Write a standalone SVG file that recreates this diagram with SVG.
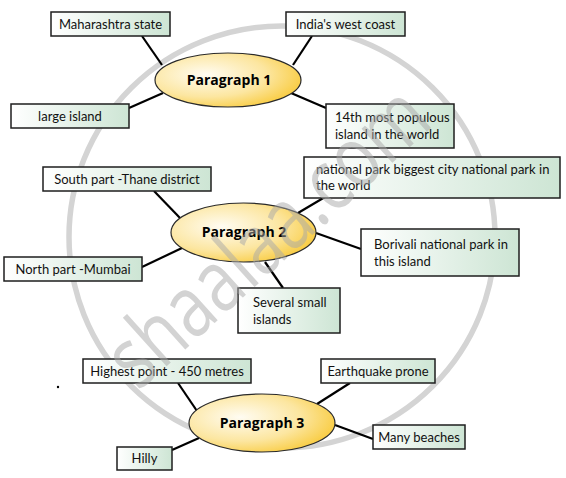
<svg xmlns="http://www.w3.org/2000/svg" width="566" height="478" viewBox="0 0 566 478">
<defs>
<linearGradient id="boxg" x1="0" y1="0" x2="1" y2="0">
<stop offset="0" stop-color="#ffffff"/>
<stop offset="1" stop-color="#cde5d4"/>
</linearGradient>
<radialGradient id="ellg" cx="0.35" cy="0.4" r="0.75">
<stop offset="0" stop-color="#fffcf2"/>
<stop offset="0.55" stop-color="#fce6a0"/>
<stop offset="1" stop-color="#f8c62c"/>
</radialGradient>
<style>
.box{fill:url(#boxg);stroke:#1e1e1e;stroke-width:1.5}
.ell{fill:url(#ellg);stroke:#2a2a2a;stroke-width:1.2}
.t{font-family:Lato,"Open Sans",sans-serif;font-size:13px;fill:#111}
.c{text-anchor:middle}
.p{font-family:"Open Sans",Lato,sans-serif;font-size:14px;font-weight:bold;fill:#000;text-anchor:middle}
.ln{stroke:#000;stroke-width:2.2;fill:none}
.wm{fill:none;stroke:#d4d4d4;stroke-width:5.5}
.wt{font-family:"Open Sans",sans-serif;font-size:86px;fill:#a8a8a8;opacity:0.5}
</style>
</defs>
<rect width="566" height="478" fill="#ffffff"/>
<ellipse class="wm" cx="282" cy="237" rx="213" ry="211"/>
<g id="connectors">
<line class="ln" x1="142" y1="36" x2="162" y2="65"/>
<line class="ln" x1="129" y1="108" x2="163" y2="93"/>
<line class="ln" x1="312" y1="36" x2="293" y2="65"/>
<line class="ln" x1="291" y1="93" x2="326" y2="108"/>
<line class="ln" x1="154" y1="191" x2="180" y2="218"/>
<line class="ln" x1="142" y1="267" x2="182" y2="248"/>
<line class="ln" x1="265" y1="262" x2="283" y2="288"/>
<line class="ln" x1="298" y1="213" x2="325" y2="197"/>
<line class="ln" x1="316" y1="233" x2="361" y2="249"/>
<line class="ln" x1="178" y1="383" x2="197" y2="411"/>
<line class="ln" x1="172" y1="450" x2="199" y2="438"/>
<line class="ln" x1="350" y1="383" x2="317" y2="404"/>
<line class="ln" x1="335" y1="425" x2="373" y2="439"/>
</g>
<g id="p1"><ellipse class="ell" cx="228" cy="80" rx="73" ry="27"/><text class="p" x="229" y="85">Paragraph 1</text></g>
<g id="p2"><ellipse class="ell" cx="243.5" cy="232.5" rx="72.5" ry="29.5"/><text class="p" x="244" y="237">Paragraph 2</text></g>
<g id="p3"><ellipse class="ell" cx="262" cy="423" rx="73" ry="29"/><text class="p" x="262" y="428">Paragraph 3</text></g>
<g id="n-maharashtra"><rect class="box" x="51" y="12" width="119" height="24"/><text class="t c" x="110.5" y="29">Maharashtra state</text></g>
<g id="n-westcoast"><rect class="box" x="286" y="12" width="119" height="24"/><text class="t c" x="345.5" y="29">India's west coast</text></g>
<g id="n-largeisland"><rect class="box" x="11" y="104" width="118" height="24"/><text class="t c" x="70" y="121">large island</text></g>
<g id="n-14th"><rect class="box" x="326" y="104" width="128" height="44"/><text class="t" x="335" y="122">14th most populous</text><text class="t" x="335" y="139">island in the world</text></g>
<g id="n-southpart"><rect class="box" x="43" y="167" width="168" height="24"/><text class="t c" x="127" y="184">South part -Thane district</text></g>
<g id="n-northpart"><rect class="box" x="4" y="257" width="138" height="24"/><text class="t c" x="73" y="274">North part -Mumbai</text></g>
<g id="n-natpark"><rect class="box" x="304" y="157" width="256" height="41"/><text class="t" x="316" y="174">national park biggest city national park in</text><text class="t" x="316" y="190">the world</text></g>
<g id="n-borivali"><rect class="box" x="361" y="229" width="158" height="47"/><text class="t" x="374" y="249">Borivali national park in</text><text class="t" x="374" y="266">this island</text></g>
<g id="n-several"><rect class="box" x="238" y="288" width="102" height="45"/><text class="t" x="253" y="307">Several small</text><text class="t" x="253" y="324">islands</text></g>
<g id="n-highest"><rect class="box" x="83" y="359" width="168" height="24"/><text class="t c" x="167" y="376">Highest point - 450 metres</text></g>
<g id="n-hilly"><rect class="box" x="117" y="447" width="55" height="23"/><text class="t c" x="144.5" y="463">Hilly</text></g>
<g id="n-earthquake"><rect class="box" x="321" y="359" width="114" height="24"/><text class="t c" x="378" y="376">Earthquake prone</text></g>
<g id="n-beaches"><rect class="box" x="373" y="425" width="92" height="24"/><text class="t c" x="419" y="442">Many beaches</text></g>
<circle cx="58" cy="387" r="1.2" fill="#000"/>
<text class="wt" transform="translate(138,392) rotate(-42)" textLength="400" lengthAdjust="spacingAndGlyphs">shaalaa.com</text>
</svg>
